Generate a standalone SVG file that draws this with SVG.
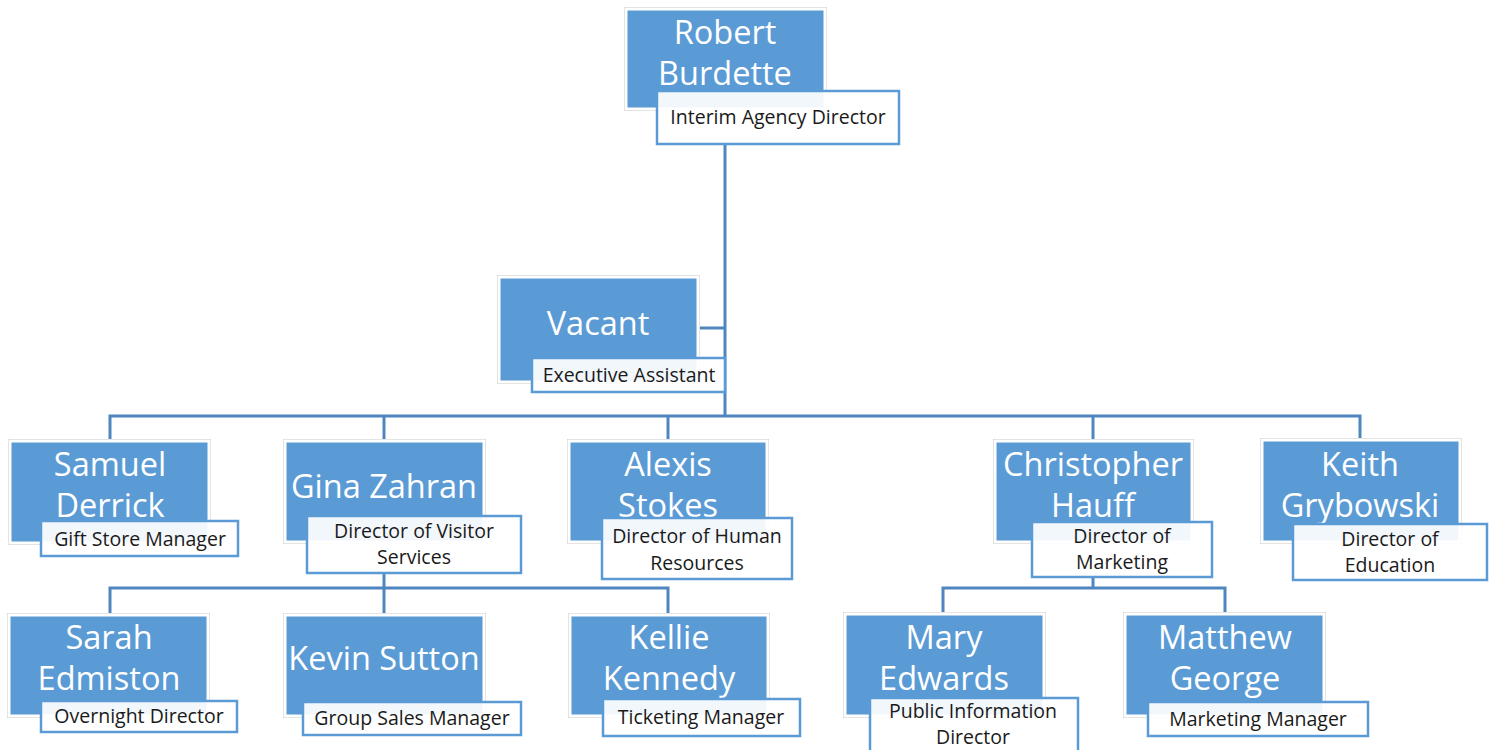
<svg xmlns="http://www.w3.org/2000/svg" width="1496" height="750" viewBox="0 0 1496 750">
<style>
.bg{fill:#ffffff}
.box{fill:#5b9bd5;stroke:#ffffff;stroke-width:3}
.frame{fill:none;stroke:#c9c9c9;stroke-width:1}
.lbl{fill:#ffffff;fill-opacity:0.92;stroke:#5b9bd5;stroke-width:2.5}
.name{font-family:"Open Sans","Noto Sans",sans-serif;font-size:32.5px;fill:#ffffff;text-anchor:middle}
.title{font-family:"Open Sans","Noto Sans",sans-serif;font-size:19.5px;fill:#1a1a1a;text-anchor:middle}
.conn{fill:none;stroke:#4f86c0;stroke-width:3}
</style>
<rect class="bg" x="0" y="0" width="1496" height="750"/>
<g id="connectors">
<path class="conn" d="M725,145 V416"/>
<path class="conn" d="M699,328 H725"/>
<path class="conn" d="M110,439 V416 H1360 V439"/>
<path class="conn" d="M384,416 V439"/>
<path class="conn" d="M668,416 V439"/>
<path class="conn" d="M1093,416 V439"/>
<path class="conn" d="M384,573 V613"/>
<path class="conn" d="M110,613 V588 H668 V613"/>
<path class="conn" d="M1093,577 V588"/>
<path class="conn" d="M943,612 V588 H1225 V612"/>
</g>
<g id="robert">
<rect class="frame" x="624.5" y="7.5" width="202" height="103"/>
<rect class="box" x="626" y="9" width="199" height="100"/>
<text class="name" x="725" y="44">Robert</text>
<text class="name" x="725" y="85">Burdette</text>
<rect class="lbl" x="657" y="91" width="242" height="53"/>
<text class="title" x="778" y="124">Interim Agency Director</text>
</g>
<g id="vacant">
<rect class="frame" x="497.5" y="275.5" width="202" height="108"/>
<rect class="box" x="499" y="277" width="199" height="105"/>
<text class="name" x="598" y="335">Vacant</text>
<rect class="lbl" x="532" y="358" width="193" height="34"/>
<text class="title" x="629" y="382">Executive Assistant</text>
</g>
<g id="samuel">
<rect class="frame" x="8.5" y="439.5" width="202" height="105"/>
<rect class="box" x="10" y="441" width="199" height="102"/>
<text class="name" x="110" y="476">Samuel</text>
<text class="name" x="110" y="517">Derrick</text>
<rect class="lbl" x="41" y="521" width="197" height="35"/>
<text class="title" x="140" y="546">Gift Store Manager</text>
</g>
<g id="gina">
<rect class="frame" x="283.5" y="439.5" width="202" height="104"/>
<rect class="box" x="285" y="441" width="199" height="101"/>
<text class="name" x="384" y="498">Gina Zahran</text>
<rect class="lbl" x="307" y="516" width="214" height="57"/>
<text class="title" x="414" y="538">Director of Visitor</text>
<text class="title" x="414" y="564">Services</text>
</g>
<g id="alexis">
<rect class="frame" x="567.5" y="439.5" width="201" height="104"/>
<rect class="box" x="569" y="441" width="198" height="101"/>
<text class="name" x="668" y="476">Alexis</text>
<text class="name" x="668" y="517">Stokes</text>
<rect class="lbl" x="602" y="518" width="190" height="61"/>
<text class="title" x="697" y="543">Director of Human</text>
<text class="title" x="697" y="570">Resources</text>
</g>
<g id="christopher">
<rect class="frame" x="993.5" y="439.5" width="200" height="104"/>
<rect class="box" x="995" y="441" width="197" height="101"/>
<text class="name" x="1093" y="476">Christopher</text>
<text class="name" x="1093" y="517">Hauff</text>
<rect class="lbl" x="1032" y="522" width="180" height="55"/>
<text class="title" x="1122" y="543">Director of</text>
<text class="title" x="1122" y="569">Marketing</text>
</g>
<g id="keith">
<rect class="frame" x="1260.5" y="438.5" width="201" height="105"/>
<rect class="box" x="1262" y="440" width="198" height="102"/>
<text class="name" x="1360" y="476">Keith</text>
<text class="name" x="1360" y="517">Grybowski</text>
<rect class="lbl" x="1293" y="524" width="194" height="56"/>
<text class="title" x="1390" y="546">Director of</text>
<text class="title" x="1390" y="572">Education</text>
</g>
<g id="sarah">
<rect class="frame" x="7.5" y="613.5" width="202" height="104"/>
<rect class="box" x="9" y="615" width="199" height="101"/>
<text class="name" x="109" y="649">Sarah</text>
<text class="name" x="109" y="690">Edmiston</text>
<rect class="lbl" x="41" y="701" width="196" height="31"/>
<text class="title" x="139" y="723">Overnight Director</text>
</g>
<g id="kevin">
<rect class="frame" x="283.5" y="613.5" width="202" height="104"/>
<rect class="box" x="285" y="615" width="199" height="101"/>
<text class="name" x="384" y="670">Kevin Sutton</text>
<rect class="lbl" x="303" y="702" width="218" height="33"/>
<text class="title" x="412" y="725">Group Sales Manager</text>
</g>
<g id="kellie">
<rect class="frame" x="568.5" y="613.5" width="201" height="104"/>
<rect class="box" x="570" y="615" width="198" height="101"/>
<text class="name" x="669" y="649">Kellie</text>
<text class="name" x="669" y="690">Kennedy</text>
<rect class="lbl" x="603" y="699" width="197" height="37"/>
<text class="title" x="701" y="724">Ticketing Manager</text>
</g>
<g id="mary">
<rect class="frame" x="843.5" y="612.5" width="202" height="105"/>
<rect class="box" x="845" y="614" width="199" height="102"/>
<text class="name" x="944" y="649">Mary</text>
<text class="name" x="944" y="690">Edwards</text>
<rect class="lbl" x="870" y="698" width="208" height="60"/>
<text class="title" x="973" y="718">Public Information</text>
<text class="title" x="973" y="744">Director</text>
</g>
<g id="matthew">
<rect class="frame" x="1123.5" y="612.5" width="202" height="105"/>
<rect class="box" x="1125" y="614" width="199" height="102"/>
<text class="name" x="1225" y="649">Matthew</text>
<text class="name" x="1225" y="690">George</text>
<rect class="lbl" x="1148" y="702" width="220" height="34"/>
<text class="title" x="1258" y="726">Marketing Manager</text>
</g>
</svg>
